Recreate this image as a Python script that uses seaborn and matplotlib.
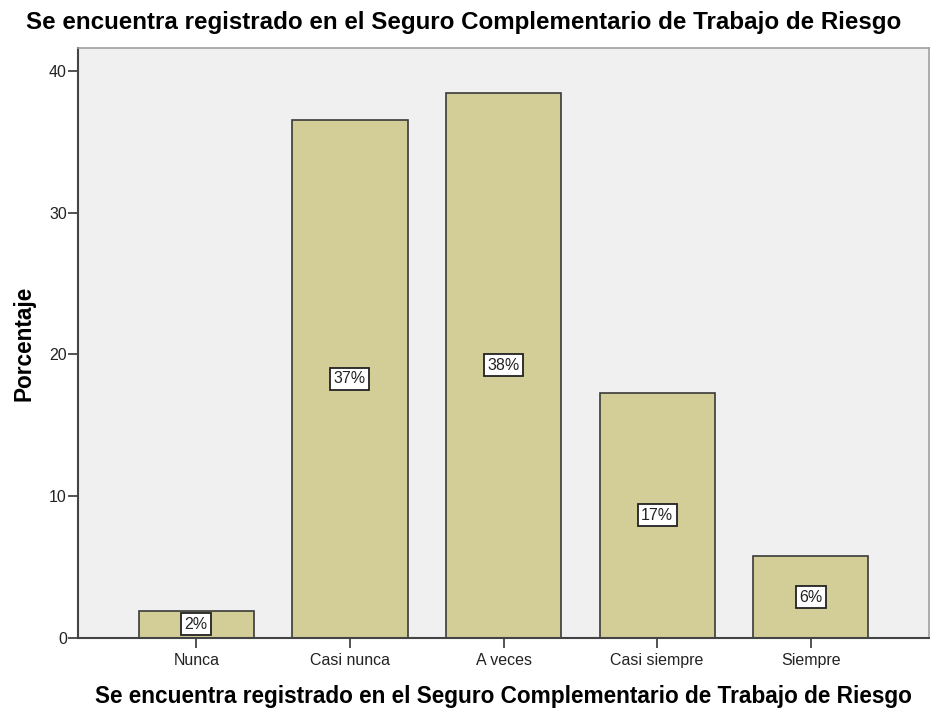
import numpy as np
import matplotlib
matplotlib.use("Agg")
import matplotlib.pyplot as plt
import pandas as pd
import seaborn as sns

# Data (percent of respondents)
categories = ["Nunca", "Casi nunca", "A veces", "Casi siempre", "Siempre"]
percentages = [1.92, 36.54, 38.46, 17.31, 5.77]
labels = ["2%", "37%", "38%", "17%", "6%"]

title = "Se encuentra registrado en el Seguro Complementario de Trabajo de Riesgo"

df = pd.DataFrame({"cat": categories, "pct": percentages})

sns.set_style("white")
plt.rcParams["font.family"] = ["Liberation Sans", "DejaVu Sans"]
plt.rcParams["text.color"] = "black"
plt.rcParams["axes.labelcolor"] = "black"

fig = plt.figure(figsize=(9.3, 7.09), dpi=100)
ax = fig.add_axes([0.0839, 0.1001, 0.9150, 0.8320])
ax.set_facecolor("#F0F0F0")

sns.barplot(data=df, x="cat", y="pct", color="#D3CE97", width=0.75,
            edgecolor="#3A3A3A", linewidth=1.2, saturation=1, ax=ax)

# Percentage labels in the middle of each bar
for i, (v, lab) in enumerate(zip(percentages, labels)):
    ax.text(i, v / 2, lab, ha="center", va="center", fontsize=11.5,
            color="#222222",
            bbox=dict(boxstyle="square,pad=0.22", facecolor="white",
                      edgecolor="#222222", linewidth=1.3))

ax.set_xlim(-0.77, 4.77)
ax.set_ylim(0, 41.6)
ax.set_yticks([0, 10, 20, 30, 40])

for side in ["left", "bottom"]:
    ax.spines[side].set_color("#444444")
    ax.spines[side].set_linewidth(1.5)
for side in ["top", "right"]:
    ax.spines[side].set_color("#A0A0A0")
    ax.spines[side].set_linewidth(1.2)

ax.tick_params(axis="both", which="major", bottom=True, left=True,
               direction="out", length=7, width=1.3, color="#444444",
               labelcolor="#222222", labelsize=11.5)
ax.tick_params(axis="y", pad=1)
ax.tick_params(axis="x", pad=4)

ax.set_xlabel(title, fontsize=16.3, fontweight="bold", labelpad=12)
ax.set_ylabel("Porcentaje", fontsize=16.3, fontweight="bold", labelpad=10)
fig.text(0.499, 0.968, title, fontsize=17.4, fontweight="bold",
         ha="center", va="center")

fig.savefig("out.png", dpi=100)
